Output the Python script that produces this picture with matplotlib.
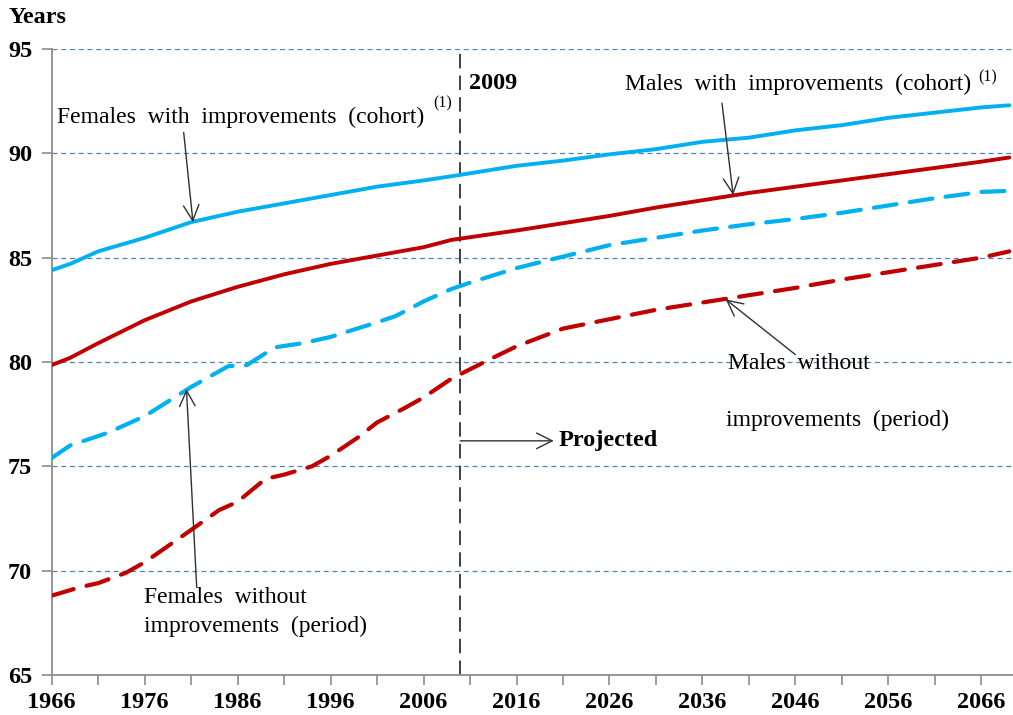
import matplotlib
matplotlib.use("Agg")
import matplotlib.pyplot as plt
from matplotlib.ticker import FixedLocator

# ---------------- data ----------------
years_solid = [1966, 1968, 1971, 1976, 1981, 1986, 1991, 1996, 2001, 2006, 2009,
               2016, 2021, 2026, 2031, 2036, 2041, 2046, 2051, 2056, 2061, 2066, 2069]
females_with = [84.4, 84.7, 85.3, 85.95, 86.7, 87.2, 87.6, 88.0, 88.4, 88.7, 88.9,
                89.4, 89.65, 89.95, 90.2, 90.55, 90.75, 91.1, 91.35, 91.7, 91.95, 92.2, 92.3]
males_with = [79.85, 80.2, 80.9, 82.0, 82.9, 83.6, 84.2, 84.7, 85.1, 85.5, 85.85,
              86.3, 86.65, 87.0, 87.4, 87.75, 88.1, 88.4, 88.7, 89.0, 89.3, 89.6, 89.8]

years_fwo = [1966, 1968, 1972, 1975, 1976, 1981, 1983, 1985, 1987, 1990, 1993, 1996,
             2001, 2003, 2006, 2009, 2011, 2016, 2021, 2026, 2031, 2036, 2041, 2046,
             2051, 2056, 2061, 2066, 2069]
females_without = [75.4, 76.0, 76.6, 77.2, 77.4, 78.8, 79.3, 79.8, 79.85, 80.7, 80.9, 81.2,
                   81.9, 82.2, 82.9, 83.5, 83.8, 84.5, 85.05, 85.6, 85.95, 86.3, 86.6, 86.85,
                   87.15, 87.5, 87.85, 88.15, 88.2]

years_mwo = [1966, 1969, 1971, 1974, 1976, 1981, 1984, 1986, 1989, 1991, 1994, 1996,
             1999, 2001, 2004, 2006, 2009, 2013, 2016, 2021, 2026, 2031, 2036, 2041,
             2046, 2051, 2056, 2061, 2066, 2069]
males_without = [68.8, 69.2, 69.4, 69.9, 70.4, 71.95, 72.9, 73.3, 74.4, 74.6, 75.0, 75.5,
                 76.4, 77.1, 77.8, 78.3, 79.2, 80.1, 80.75, 81.6, 82.05, 82.5, 82.85, 83.2,
                 83.55, 83.95, 84.3, 84.65, 85.0, 85.3]

x_ticks = list(range(1966, 2067, 10))
x_minor = list(range(1971, 2070, 10))
y_ticks = [65, 70, 75, 80, 85, 90, 95]
projection_start = 2009.95

BLUE = "#00B0F0"
RED = "#C00000"
GRID = "#4F81BD"

plt.rcParams['font.family'] = ['Liberation Serif', 'DejaVu Serif']

fig = plt.figure(figsize=(10.13, 7.15), dpi=100)
ax = fig.add_axes([0.051, 0.056, 0.949, 0.8755])

ax.set_xlim(1966, 2069.4)
ax.set_ylim(65, 95)

# grid lines
for v in y_ticks[1:]:
    ax.axhline(v, color=GRID, lw=0.9, dashes=(4, 3), zorder=1)

ax.axvline(projection_start, color="#303030", lw=1.3, dashes=(8, 4), zorder=2)

ax.plot(years_solid, females_with, color=BLUE, lw=2.8, solid_capstyle='round', zorder=3)
ax.plot(years_solid, males_with, color=RED, lw=2.8, solid_capstyle='round', zorder=3)
ax.plot(years_fwo, females_without, color=BLUE, lw=3.0, dashes=(5.5, 3.2),
        dash_capstyle='round', zorder=3)
ax.plot(years_mwo, males_without, color=RED, lw=3.0, dashes=(5.5, 3.2),
        dash_capstyle='round', zorder=3)

# axes styling
for s in ['top', 'right']:
    ax.spines[s].set_visible(False)
for s in ['left', 'bottom']:
    ax.spines[s].set_color('#8c8c8c')
    ax.spines[s].set_linewidth(1.3)

ax.set_xticks(x_ticks)
ax.xaxis.set_minor_locator(FixedLocator(x_minor))
ax.set_yticks(y_ticks)
ax.tick_params(axis='both', which='both', direction='out', length=7, width=1.2,
               color='#8c8c8c', labelsize=17.5)
ax.tick_params(axis='x', pad=5)
ax.tick_params(axis='y', pad=7)
for lab in ax.get_xticklabels() + ax.get_yticklabels():
    lab.set_fontweight('bold')

fig.text(0.009, 0.975, "Years", fontsize=17.5, fontweight='bold', ha='left', va='center')

# annotations
arrow = dict(arrowstyle='->', color='#303030', lw=1.0, mutation_scale=28, shrinkA=0, shrinkB=0)
fs = 17

ax.text(1966.6, 91.45, "Females  with  improvements  (cohort)", fontsize=fs, ha='left', va='baseline')
ax.text(2007.0, 92.4, "(1)", fontsize=11.5, ha='left', va='center')
ax.annotate("", xy=(1981.2, 86.7), xytext=(1980.2, 91.0), arrowprops=arrow)

ax.text(2010.9, 93.07, "2009", fontsize=17.5, fontweight='bold', ha='left', va='baseline')

ax.text(2027.7, 93.04, "Males  with  improvements  (cohort)", fontsize=fs, ha='left', va='baseline')
ax.text(2065.7, 93.66, "(1)", fontsize=11.5, ha='left', va='center')
ax.annotate("", xy=(2039.3, 88.0), xytext=(2038.1, 92.4), arrowprops=arrow)

ax.annotate("", xy=(2020.0, 76.22), xytext=(projection_start, 76.22), arrowprops=arrow)
ax.text(2020.5, 76.22, "Projected", fontsize=17.5, fontweight='bold', ha='left', va='center')

ax.text(1975.9, 68.45, "Females  without", fontsize=fs, ha='left', va='baseline')
ax.text(1975.9, 67.07, "improvements  (period)", fontsize=fs, ha='left', va='baseline')
ax.annotate("", xy=(1980.5, 78.7), xytext=(1981.6, 69.2), arrowprops=arrow)

ax.text(2038.7, 79.65, "Males  without", fontsize=fs, ha='left', va='baseline')
ax.text(2038.5, 76.95, "improvements  (period)", fontsize=fs, ha='left', va='baseline')
ax.annotate("", xy=(2038.5, 83.0), xytext=(2046.0, 80.35), arrowprops=arrow)

fig.savefig("out.png", dpi=100)
